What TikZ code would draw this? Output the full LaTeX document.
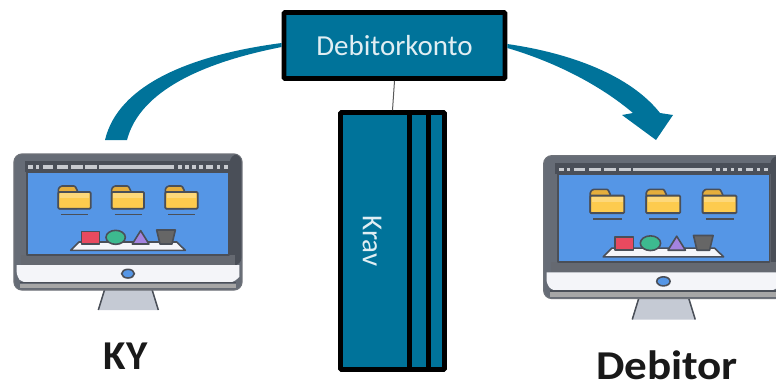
\documentclass[tikz,border=0pt]{standalone}
\usepackage{fontspec}
\setmainfont{Carlito}
\definecolor{teal}{HTML}{00739A}
\definecolor{dk}{HTML}{4A4F58}
\definecolor{bez}{HTML}{666C76}
\definecolor{scr}{HTML}{5596E6}
\definecolor{fold}{HTML}{FDCB4E}
\definecolor{foldb}{HTML}{E5AE3C}
\definecolor{lite}{HTML}{C8CBD0}
\definecolor{chin}{HTML}{F4F5F9}
\definecolor{itemred}{HTML}{E84A5F}
\definecolor{itemgreen}{HTML}{3DBA8F}
\definecolor{itempurple}{HTML}{A483E0}
\definecolor{standc}{HTML}{C5CAD4}
\tikzset{
  boxed/.style={draw=black,line width=4.6pt,fill=teal,rounded corners=0.8pt,inner sep=0pt},
  lab/.style={text=white!88!teal,font=\fontsize{29}{31}\selectfont},
  big/.style={text=black!90,font=\bfseries\fontsize{41}{44}\selectfont,anchor=base,inner sep=0pt},
  art/.style={draw=dk,line width=1.6pt,line join=round}
}
\newcommand\folderart[1]{%
  \begin{scope}[shift={(#1,138)}]
    \fill[foldb,art,rounded corners=1pt] (0,68) -- (0,8) -- (8,0) -- (50,0) -- (58,16) -- (58,68) -- cycle;
    \fill[fold,art,line width=1.8pt,rounded corners=1pt] (0,18) rectangle (97,68);
    \fill[white,opacity=.25] (4,22) rectangle (93,36);
    \draw[dk,line width=1.6pt] (9,85) -- (90,85);
  \end{scope}}
\newcommand\monitorart{%
    \fill[standc] (295,510) -- (315,440) -- (455,440) -- (475,510) -- cycle;
    \draw[dk,line width=1.5pt] (295,510) -- (315,445) (455,445) -- (475,510);
    \fill[bez,draw=dk!80,line width=1.2pt,rounded corners=8pt] (42,42) rectangle (726,450);
    \fill[dk,rounded corners=7pt] (690,44) rectangle (724,375);
    \fill[dk!85] (62,345) rectangle (705,375);
    \fill[chin] (50,375) -- (718,375) -- (718,410) [rounded corners=5pt] -- (700,428) -- (68,428) -- (50,410) [sharp corners] -- cycle;
    \draw[dk,line width=1.4pt] (60,428) -- (708,428);
    \fill[black!35] (60,431) rectangle (708,445);
    \fill[dk] (75,62) rectangle (692,95);
    \foreach \a/\b in {85/100,108/118,128/160,170/205,213/248,256/290,298/522,533/545,555/567,577/587,597/609,619/640,650/660,672/684}
      \fill[lite] (\a,76) rectangle (\b,86);
    \fill[scr,art,line width=1.8pt] (82,95) rectangle (687,345);
    \folderart{175}\folderart{335}\folderart{496}
    \fill[chin,art] (212,331) -- (237,306) -- (530,306) -- (556,331) -- cycle;
    \fill[itemred,art] (245,275) rectangle (298,312);
    \fill[itemgreen,art] (347,292) ellipse [x radius=29,y radius=21];
    \fill[itempurple,art] (397,312) -- (422,272) -- (447,312) -- cycle;
    \fill[black!60,art] (470,270) -- (526,270) -- (516,312) -- (480,312) -- cycle;
    \fill[scr,art] (384,401) ellipse [x radius=19,y radius=13];
}
\begin{document}
\begin{tikzpicture}[x=1pt,y=-1pt]
\useasboundingbox (0,0) rectangle (776,383);
\clip (0,0) rectangle (776,383);
\begin{scope}[shift={(0,140)},scale=1/3]
  \monitorart
\end{scope}
\begin{scope}[shift={(529,141)},scale=0.35]
  \monitorart
\end{scope}
\node[boxed,lab,minimum width=221pt,minimum height=66pt] (konto) at (394.5,45.5) {Debitorkonto};
\node[boxed,minimum width=104pt,minimum height=257pt] (krav) at (392.5,241) {};
\draw[black,line width=4.6pt] (409.5,111) -- (409.5,370) (428.5,111) -- (428.5,370);
\node[lab,rotate=-90] (kravlab) at (372,241) {Krav};
\draw[black!65,line width=1pt] (konto.south) -- (krav.north);
\coordinate (ls) at (105,140);
\coordinate (le) at (127,140);
\coordinate (rs) at (633,113);
\coordinate (re) at (660,113);
\fill[teal] (ls) .. controls (118,85) and (190,55) .. (konto.west |- 0,43)
  -- (konto.west |- 0,47) .. controls (205,62) and (140,90) .. (le) -- cycle;
\coordinate (hl) at (622,115);
\coordinate (hr) at (673,115);
\coordinate (tip) at (656,140);
\fill[teal] (konto.east |- 0,44) .. controls (570,53) and (630,75) .. (re)
  -- (hr) -- (tip) -- (hl) -- (rs) .. controls (600,85) and (555,62) .. (konto.east |- 0,48) -- cycle;
\node[big] (ky) at (125.5,369) {KY};
\node[big,xscale=1.1] (debitor) at (667,379) {Debitor};
\end{tikzpicture}
\end{document}
